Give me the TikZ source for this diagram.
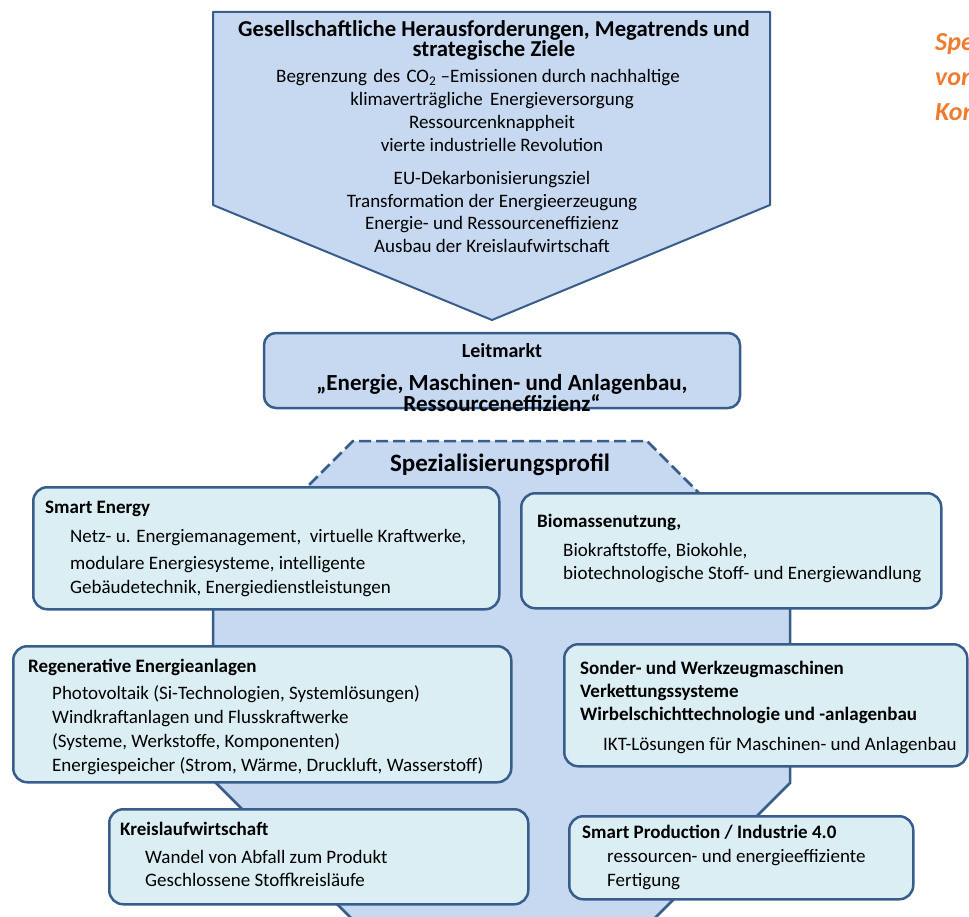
\documentclass[tikz,border=0pt]{standalone}
\usepackage{fontspec}
\setmainfont{Carlito}
\definecolor{paneblue}{RGB}{198,217,241}
\definecolor{cardblue}{RGB}{219,238,244}
\definecolor{edgeblue}{RGB}{56,93,138}
\definecolor{notecolor}{RGB}{237,125,49}
\tikzset{
  panel/.style={fill=paneblue,draw=edgeblue,line width=2pt,line join=round},
  card/.style={fill=cardblue,draw=edgeblue,line width=2.5pt,rounded corners=14pt,anchor=north west,inner sep=0pt},
  head/.style={font=\fontsize{19}{23}\selectfont\bfseries,anchor=mid west,inner sep=0pt},
  item/.style={font=\fontsize{19}{23}\selectfont,anchor=mid west,inner sep=0pt},
  ctitle/.style={font=\fontsize{22.7}{20}\selectfont\bfseries,align=center,inner sep=0pt},
  cline/.style={font=\fontsize{19}{23}\selectfont,anchor=mid,inner sep=0pt},
  note/.style={font=\fontsize{26}{30}\selectfont\bfseries\itshape,text=notecolor,anchor=mid west,inner sep=0pt}
}
\begin{document}
\begin{tikzpicture}[x=1pt,y=-1pt]
\useasboundingbox (0,0) rectangle (969,917);
% top arrow
\draw[panel] (213,12) -- (770,12) -- (770,205) -- (492,320) -- (213,205) -- cycle;
\node[ctitle] (goaltitle) at (494,40) {Gesellschaftliche Herausforderungen, Megatrends und\\strategische Ziele};
\node[cline] (goal3) at (478,80) {Begrenzung\hspace{2pt} des\hspace{2pt} CO\textsubscript{2} –Emissionen durch nachhaltige};
\node[cline] (goal4) at (492,103) {klimaverträgliche\hspace{3pt} Energieversorgung};
\node[cline] (goal5) at (492,126) {Ressourcenknappheit};
\node[cline] (goal6) at (492,149) {vierte industrielle Revolution};
\node[cline] (goal7) at (492,182) {EU-Dekarbonisierungsziel};
\node[cline] (goal8) at (492,205) {Transformation der Energieerzeugung};
\node[cline] (goal9) at (492,227) {Energie- und Ressourceneffizienz};
\node[cline] (goal10) at (492,250) {Ausbau der Kreislaufwirtschaft};
% Leitmarkt
\draw[panel,line width=2.5pt,rounded corners=12pt] (264,333) rectangle (740,408);
\node[ctitle,anchor=mid,font=\fontsize{20}{21}\selectfont\bfseries] (lead1) at (502,355) {Leitmarkt};
\node[ctitle,font=\fontsize{23}{19}\selectfont\bfseries] (leadname) at (502,393) {„Energie, Maschinen- und Anlagenbau,\\Ressourceneffizienz“};
% octagon
\fill[paneblue] (213,581) -- (353,441) -- (647,441) -- (790,584) -- (790,783) -- (643,930)
  -- (363,930) -- (213,780) -- cycle;
\draw[edgeblue,line width=2.5pt,dash pattern=on 12pt off 5pt] (213,581) -- (353,441) -- (647,441) -- (790,584);
\draw[edgeblue,line width=2.5pt] (790,584) -- (790,783) -- (643,930);
\draw[edgeblue,line width=2.5pt] (213,581) -- (213,780) -- (363,930);
\node[ctitle,anchor=mid,font=\fontsize{25}{28}\selectfont\bfseries] (profile) at (500,469) {Spezialisierungsprofil};
% cards
\node[card,minimum width=466,minimum height=122] (smartbox) at (32,486) {};
\node[head] (smart0) at (45,511) {Smart Energy};
\node[item] (smart1) at (70,540) {Netz- u. Energiemanagement,\ \ virtuelle Kraftwerke,};
\node[item] (smart2) at (70,567) {modulare Energiesysteme, intelligente};
\node[item] (smart3) at (70,591) {Gebäudetechnik, Energiedienstleistungen};
\node[card,minimum width=420,minimum height=115] (biobox) at (520,492) {};
\node[head] (bio0) at (537,525) {Biomassenutzung,};
\node[item] (bio1) at (563,554) {Biokraftstoffe, Biokohle,};
\node[item] (bio2) at (563,577) {biotechnologische Stoff- und Energiewandlung};
\node[card,minimum width=498,minimum height=136] (regbox) at (12,645) {};
\node[head] (reg0) at (28,670) {Regenerative Energieanlagen};
\node[item] (reg1) at (52,697) {Photovoltaik (Si-Technologien, Systemlösungen)};
\node[item] (reg2) at (52,721) {Windkraftanlagen und Flusskraftwerke};
\node[item] (reg3) at (52,745) {(Systeme, Werkstoffe, Komponenten)};
\node[item] (reg4) at (52,769) {Energiespeicher (Strom, Wärme, Druckluft, Wasserstoff)};
\node[card,minimum width=403,minimum height=122] (toolbox) at (563,643) {};
\node[head] (tool0) at (580,672) {Sonder- und Werkzeugmaschinen};
\node[head] (tool1) at (580,695) {Verkettungssysteme};
\node[head] (tool2) at (580,718) {Wirbelschichttechnologie und -anlagenbau};
\node[item] (tool3) at (603,748) {IKT-Lösungen für Maschinen- und Anlagenbau};
\node[card,minimum width=419,minimum height=95] (circbox) at (108,808) {};
\node[head] (circ0) at (120,833) {Kreislaufwirtschaft};
\node[item] (circ1) at (145,861) {Wandel von Abfall zum Produkt};
\node[item] (circ2) at (145,884) {Geschlossene Stoffkreisläufe};
\node[card,minimum width=344,minimum height=83] (prodbox) at (568,815) {};
\node[head] (prod0) at (582,836) {Smart Production / Industrie 4.0};
\node[item] (prod1) at (607,860) {ressourcen- und energieeffiziente};
\node[item] (prod2) at (607,884) {Fertigung};
% orange note at right edge
\node[note] (note1) at (935,48) {Spe};
\node[note] (note2) at (935,83) {von};
\node[note] (note3) at (935,118) {Kon};
\end{tikzpicture}
\end{document}
